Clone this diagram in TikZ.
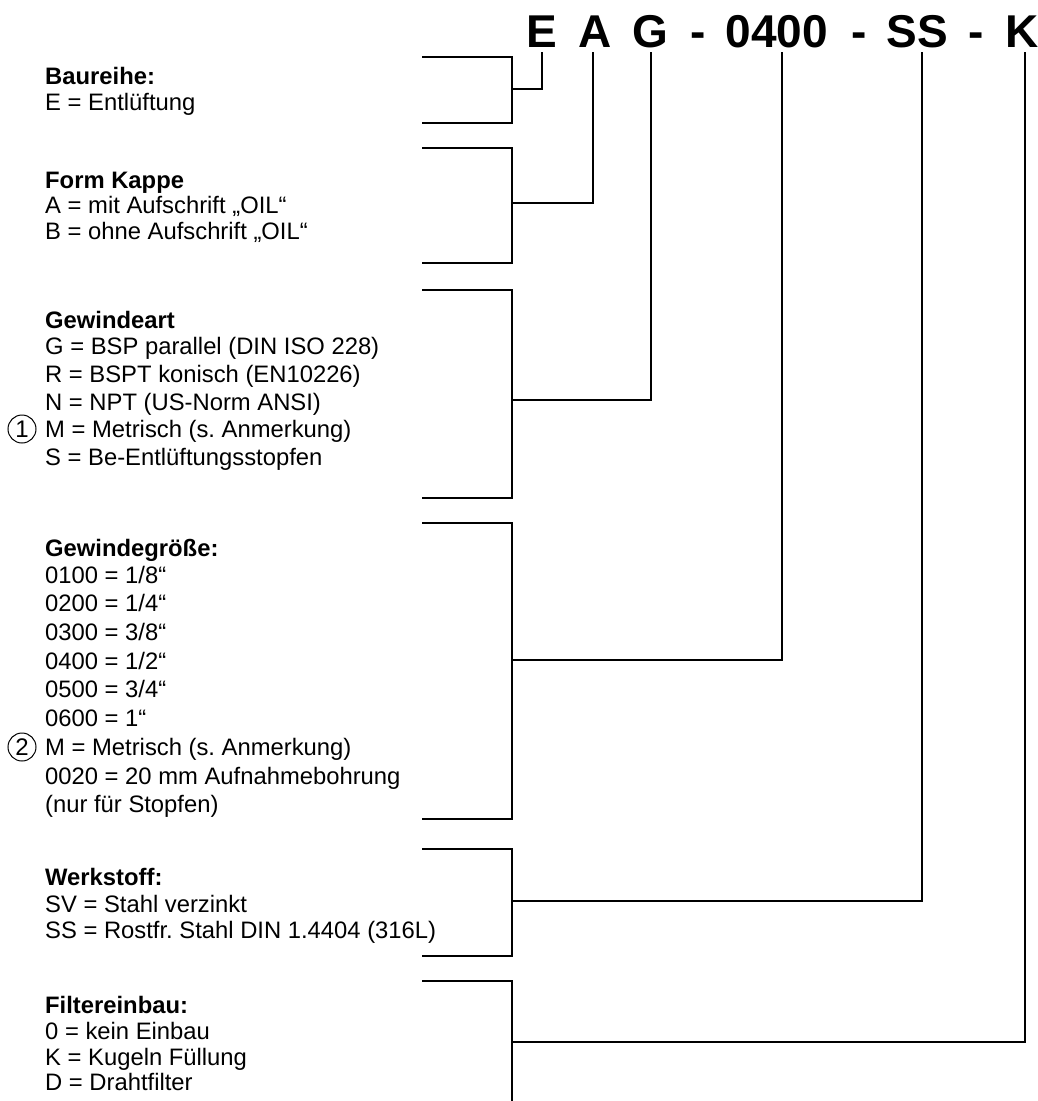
\documentclass[tikz,border=0pt]{standalone}
\usepackage{fontspec}
\setmainfont{Liberation Sans}
\frenchspacing
\begin{document}
\begin{tikzpicture}[x=1pt,y=-1pt,
  txt/.style={inner sep=0pt,anchor=base west,font=\fontsize{23.8}{28}\selectfont},
  hdr/.style={txt,font=\fontsize{23.8}{28}\selectfont\bfseries},
  ttl/.style={inner sep=0pt,anchor=base,font=\fontsize{46}{54}\selectfont\bfseries},
  br/.style={line width=2.3pt,line join=miter},
  conn/.style={line width=2.3pt,line join=miter},
  circ/.style={circle,draw,line width=1pt,minimum size=28pt,inner sep=0pt,font=\fontsize{24}{26}\selectfont}]
\useasboundingbox (0,0) rectangle (1038,1101);
% title
\node[ttl] (tE) at (542,47) {E};
\node[ttl] (tA) at (595,47) {A};
\node[ttl] (tG) at (650,47) {G};
\node[ttl] (td1) at (698,47) {-};
\node[ttl] (t04) at (777,47) {0400};
\node[ttl] (td2) at (859,47) {-};
\node[ttl] (tSS) at (917,47) {SS};
\node[ttl] (td3) at (976,47) {-};
\node[ttl] (tK) at (1022,47) {K};
% line tops
\coordinate (lE) at (542,52);
\coordinate (lA) at (593,52);
\coordinate (lG) at (651,52);
\coordinate (l04) at (782,52);
\coordinate (lSS) at (922,52);
\coordinate (lK) at (1025,52);
% brackets
\def\xl{422}\def\xr{512}
\draw[br] (\xl,57) -- (\xr,57) -- (\xr,123) -- (\xl,123);
\draw[br] (\xl,148) -- (\xr,148) -- (\xr,263) -- (\xl,263);
\draw[br] (\xl,290) -- (\xr,290) -- (\xr,498) -- (\xl,498);
\draw[br] (\xl,523) -- (\xr,523) -- (\xr,819) -- (\xl,819);
\draw[br] (\xl,849) -- (\xr,849) -- (\xr,956) -- (\xl,956);
\draw[br] (\xl,981) -- (\xr,981) -- (\xr,1105);
\coordinate (b1) at (\xr,89);
\coordinate (b2) at (\xr,203);
\coordinate (b3) at (\xr,400);
\coordinate (b4) at (\xr,660);
\coordinate (b5) at (\xr,901);
\coordinate (b6) at (\xr,1042);
% connectors
\draw[conn] (lE) |- (b1);
\draw[conn] (lA) |- (b2);
\draw[conn] (lG) |- (b3);
\draw[conn] (l04) |- (b4);
\draw[conn] (lSS) |- (b5);
\draw[conn] (lK) |- (b6);
% block 1
\node[hdr] (h1) at (45,84) {Baureihe:};
\node[txt] (e1) at (45,110) {E = Entlüftung};
% block 2
\node[hdr] (h2) at (45,188) {Form Kappe};
\node[txt] (f1) at (45,213) {A = mit Aufschrift „OIL“};
\node[txt] (f2) at (45,239) {B = ohne Aufschrift „OIL“};
% block 3
\node[hdr] (h3) at (45,328) {Gewindeart};
\node[txt] (g1) at (45,354) {G = BSP parallel (DIN ISO 228)};
\node[txt] (g2) at (45,382) {R = BSPT konisch (EN10226)};
\node[txt] (g3) at (45,410) {N = NPT (US-Norm ANSI)};
\node[txt] (g4) at (45,437) {M = Metrisch (s. Anmerkung)};
\node[txt] (g5) at (45,465) {S = Be-Entlüftungsstopfen};
\node[circ] (c1) at (22,429) {1};
% block 4
\node[hdr] (h4) at (45,556) {Gewindegröße:};
\node[txt] (s1) at (45,583) {0100 = 1/8“};
\node[txt] (s2) at (45,611.7) {0200 = 1/4“};
\node[txt] (s3) at (45,640.4) {0300 = 3/8“};
\node[txt] (s4) at (45,669) {0400 = 1/2“};
\node[txt] (s5) at (45,697.8) {0500 = 3/4“};
\node[txt] (s6) at (45,726.5) {0600 = 1“};
\node[txt] (s7) at (45,755.2) {M = Metrisch (s. Anmerkung)};
\node[txt] (s8) at (45,784) {0020 = 20 mm Aufnahmebohrung};
\node[txt] (s9) at (45,812.6) {(nur für Stopfen)};
\node[circ] (c2) at (22,747) {2};
% block 5
\node[hdr] (h5) at (45,885) {Werkstoff:};
\node[txt] (w1) at (45,912) {SV = Stahl verzinkt};
\node[txt] (w2) at (45,938) {SS = Rostfr. Stahl DIN 1.4404 (316L)};
% block 6
\node[hdr] (h6) at (45,1013) {Filtereinbau:};
\node[txt] (k1) at (45,1039) {0 = kein Einbau};
\node[txt] (k2) at (45,1065) {K = Kugeln Füllung};
\node[txt] (k3) at (45,1090) {D = Drahtfilter};
\end{tikzpicture}
\end{document}
